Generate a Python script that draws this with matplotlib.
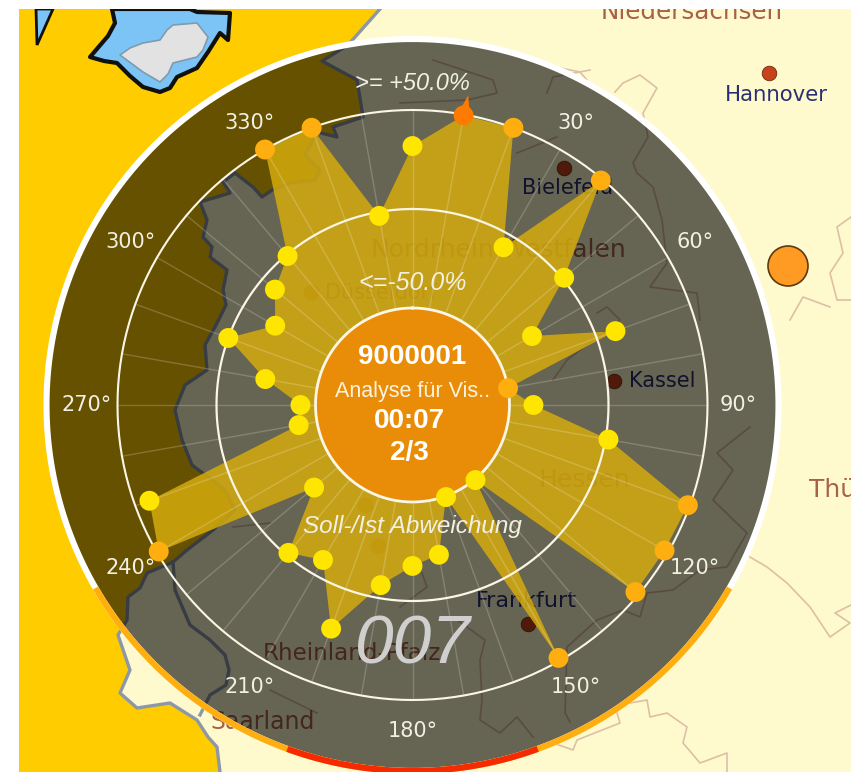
"""Polar Soll/Ist deviation radar drawn over a map section."""
import numpy as np
import matplotlib
matplotlib.use("Agg")
import matplotlib.pyplot as plt
from matplotlib.patches import Polygon, Circle, Rectangle

W, H = 856, 772
CX, CY = 412.5, 405
PX_PER_PCT = 1.98
PX_AT_ZERO = 196
AX_R = 372

# deviation per bearing, in percent
angles_deg = list(range(0, 360, 10))
deviation = [
    31.8, 49.5, 50, -7, 49, 1, -29.3, 10.1, -50, -37.9, 1.5, 49,
    48, 48, -49.5, 48.5, -49.5, -22.2, -17.7, -6.6, 21.2, -8.6, -1.5, -34.1,
    49, 42.4, -40.6, -42.4, -23.5, 0, -18.9, -8.3, -0.8, 50, 50, -2,
]
tick_angles = [30, 60, 90, 120, 150, 180, 210, 240, 270, 300, 330]

# map outlines, in image pixels
neighbour = [
    (19, 9), (380, 9), (348, 45), (322, 61), (357, 80), (363, 117), (333, 127), (337, 137),
    (317, 132), (305, 155), (320, 170), (315, 180), (290, 183), (272, 190), (262, 197),
    (253, 187), (235, 173), (223, 182), (230, 193), (200, 202), (207, 220), (203, 237),
    (212, 247), (210, 257), (227, 270), (223, 290), (226, 305), (216, 325), (205, 345),
    (207, 370), (185, 385), (175, 410), (182, 440), (192, 465), (225, 490), (235, 510),
    (213, 530), (187, 550), (173, 562), (147, 573), (140, 588), (128, 597), (127, 620),
    (118, 635), (130, 670), (120, 693), (137, 708), (170, 703), (197, 720), (208, 737),
    (217, 747), (220, 772), (19, 772),
]
inner_border = [
    (173, 562), (175, 590), (190, 625), (210, 640), (225, 655), (229, 670), (226, 685),
    (210, 695), (205, 705), (200, 715),
]
lake = [
    (112, 9), (115, 23), (108, 36), (90, 57), (104, 61), (117, 63), (130, 76), (143, 87),
    (160, 92), (170, 88), (177, 77), (197, 68), (208, 52), (220, 33), (228, 40), (230, 13),
    (197, 12), (190, 9),
]
island = [
    (120, 55), (130, 48), (143, 43), (160, 40), (167, 30), (173, 25), (197, 23), (208, 37),
    (203, 50), (197, 57), (173, 63), (168, 74), (160, 82), (143, 72),
]
sliver = [(36, 9), (37, 45), (53, 9)]
state_lines = [
    [(560, 68), (580, 72), (587, 80)],
    [(615, 92), (623, 83), (640, 75), (657, 88), (643, 113), (648, 137), (633, 163),
     (637, 173), (653, 187), (662, 220), (667, 263), (650, 287), (697, 293), (700, 320)],
    [(851, 217), (837, 227), (843, 253), (830, 273), (837, 300), (851, 300)],
    [(790, 320), (803, 297), (830, 307)],
    [(750, 427), (717, 453), (733, 470), (713, 500), (747, 533), (727, 567), (700, 570),
     (673, 590), (647, 593), (640, 617), (623, 610), (597, 620), (567, 647), (565, 713),
     (570, 722)],
    [(750, 557), (767, 567), (787, 583), (810, 607), (830, 637), (850, 623), (835, 613), (851, 605)],
    [(630, 703), (647, 700), (650, 717), (667, 713), (687, 727), (683, 743), (700, 763),
     (727, 753), (727, 772)],
    [(617, 713), (620, 723), (577, 740), (573, 750), (553, 743)],
    [(433, 60), (493, 80), (497, 93), (467, 100), (400, 103)],
    [(547, 93), (553, 77), (590, 70)],
    [(517, 153), (557, 137)],
    [(597, 313), (607, 307), (620, 320), (567, 360), (553, 380)],
    [(453, 617), (485, 640), (480, 660), (482, 700), (480, 720), (500, 733), (517, 717), (533, 737)],
    [(400, 607), (427, 587), (422, 573)],
    [(270, 690), (317, 713)],
    [(233, 527), (270, 523)],
]
state_names = [
    ("Niedersachsen", 692, 12, 17.7), ("Nordrhein-Westfalen", 498, 250, 18), ("Hessen", 584, 480, 18),
    ("Rheinland-Pfalz", 352, 654, 16.6), ("Saarland", 263, 722, 17), ("Thü", 833, 490, 18),
]
city_names = [
    ("Hannover", 776, 95, 15.3), ("Bielefeld", 568, 188, 15), ("Kassel", 662, 381, 15), ("Frankfurt", 526, 601, 16),
]
city_dots = [(769, 73), (564, 168), (614, 381), (528, 624)]
faint_names = [("Düsseldorf", 381, 293), ("Köln", 345, 423)]
faint_dots = [(311, 292), (365, 505), (378, 546)]


def to_r(px):
    return (px - PX_AT_ZERO) / PX_PER_PCT


fig = plt.figure(figsize=(W / 100, H / 100), dpi=100, facecolor="white")

# map layer
mp = fig.add_axes([19 / W, 0, 832 / W, 763 / H])
mp.set_xlim(19, 851)
mp.set_ylim(772, 9)
mp.set_axis_off()
mp.add_patch(Rectangle((19, 9), 832, 763, color="#FFFACD", zorder=0))
mp.add_patch(Polygon(neighbour, closed=True, facecolor="#FFCC00", linewidth=0, zorder=1))
mp.plot(*zip(*neighbour[1:-1]), color="#8C97A8", linewidth=2.4, solid_joinstyle="round", zorder=2)
mp.plot(*zip(*inner_border), color="#8C97A8", linewidth=2.4, solid_joinstyle="round", zorder=2)
mp.add_patch(Polygon(lake, closed=True, facecolor="#7CC4F5", edgecolor="#101010", linewidth=3, joinstyle="round", zorder=2))
mp.add_patch(Polygon(island, closed=True, facecolor="#E2E2E2", edgecolor="#7E9BB0", linewidth=1.2, joinstyle="round", zorder=3))
mp.add_patch(Polygon(sliver, closed=True, facecolor="#7CC4F5", edgecolor="#101010", linewidth=2, zorder=2))
for line in state_lines:
    mp.plot(*zip(*line), color="#DDBFA6", linewidth=1.2, zorder=2)
for name, x, y, size in state_names:
    mp.text(x, y, name, color="#A8604A", fontsize=size, ha="center", va="center", clip_on=True, zorder=4)
for name, x, y, size in city_names:
    mp.text(x, y, name, color="#2A2F72", fontsize=size, ha="center", va="center", zorder=4)
for x, y in city_dots:
    mp.scatter(x, y, s=110, color="#C8431A", edgecolors="#6B2A10", linewidths=0.6, zorder=4)
for name, x, y in faint_names:
    mp.text(x, y, name, color="#A8604A", fontsize=15, ha="center", va="center", zorder=4)
for x, y in faint_dots:
    mp.scatter(x, y, s=110, color="#F0A020", zorder=4)
mp.add_patch(Circle((788, 266), 20, facecolor="#FF9A22", edgecolor="#5A3A10", linewidth=1.2, zorder=4))

# radar layer
ax = fig.add_axes([(CX - AX_R) / W, 1 - (CY + AX_R) / H, 2 * AX_R / W, 2 * AX_R / H], projection="polar")
ax.set_theta_zero_location("N")
ax.set_theta_direction(-1)
r_min = to_r(0)
ax.set_rlim(r_min, to_r(AX_R))
ax.set_axis_off()

full = np.linspace(0, 2 * np.pi, 361)
theta = np.deg2rad(angles_deg)
ax.fill_between(full, r_min, to_r(366), color="black", alpha=0.6, linewidth=0, zorder=1)

ax.fill(np.append(theta, theta[0]), deviation + deviation[:1], color="#D5AB0E", alpha=0.85, linewidth=0, zorder=2)
ax.vlines(theta, -50, 50, color="white", alpha=0.2, linewidth=1, zorder=3)

ax.plot(full, np.full_like(full, 0), color="#FBF6E6", linewidth=1.6, zorder=4)
ax.plot(full, np.full_like(full, 50), color="#FBF6E6", linewidth=1.5, zorder=4)
ax.fill_between(full, r_min, to_r(97), color="#EC8C08", alpha=0.95, linewidth=0, zorder=5)
ax.plot(full, np.full_like(full, to_r(97)), color="#FBF6E6", linewidth=2, zorder=6)

# outer ring, coloured over the lower part
ax.plot(full, np.full_like(full, to_r(366)), color="white", linewidth=4.4, zorder=7)
ring_orange = np.deg2rad(np.linspace(120, 240, 121))
ring_red = np.deg2rad(np.linspace(160, 200, 41))
ax.plot(ring_orange, np.full_like(ring_orange, to_r(366)), color="#FFAE0F", linewidth=4.4, zorder=8, solid_capstyle="butt")
ax.plot(ring_red, np.full_like(ring_red, to_r(366)), color="#F52A00", linewidth=4.4, zorder=9, solid_capstyle="butt")

# spike for the value that runs past the scale
ax.fill(np.deg2rad([8.6, 10.2, 11.4]), [48, 60, 48], color="#FF7A00", linewidth=0, zorder=10)

colors = []
for i, v in enumerate(deviation):
    if angles_deg[i] == 10:
        colors.append("#FF7A00")
    elif v >= 48 or v <= -50:
        colors.append("#FFAE0F")
    else:
        colors.append("#FFE600")
ax.scatter(theta, deviation, s=205, c=colors, linewidths=0, zorder=11)

for a in tick_angles:
    ax.text(np.deg2rad(a), to_r(326), f"{a}°", color="#F2F0E4", fontsize=15, ha="center", va="center", zorder=12)

ital = dict(family="Liberation Sans", style="italic", color="#F2F0E4", ha="center", va="center", zorder=12)
ax.text(0, to_r(321), ">= +50.0%", fontsize=17, **ital)
ax.text(0, to_r(122), "<=-50.0%", fontsize=18, **ital)
ax.text(np.pi, to_r(122), "Soll-/Ist Abweichung", fontsize=17.5, **ital)
ax.text(np.pi, to_r(240), "007", family="Liberation Sans", style="italic", fontsize=50, color="#CFCFCF",
        ha="center", va="center", zorder=12)

head = dict(family="Liberation Sans", weight="bold", color="white", ha="center", va="center", zorder=12)
ax.text(0, to_r(48), "9000001", fontsize=20, **head)
ax.text(0, to_r(14), "Analyse für Vis..", family="Liberation Sans", fontsize=15.5, color="#FBF3E0",
        ha="center", va="center", zorder=12)
ax.text(np.deg2rad(191), to_r(16), "00:07", fontsize=20, **head)
ax.text(np.deg2rad(183.6), to_r(48), "2/3", fontsize=20, **head)

fig.savefig("out.png", dpi=100)
